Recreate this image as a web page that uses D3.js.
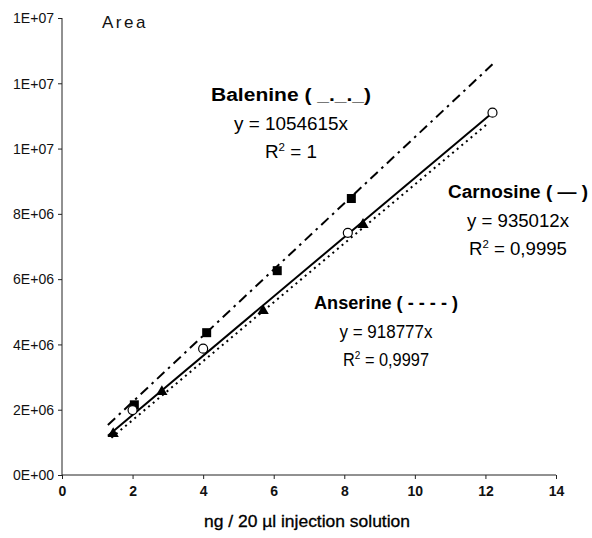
<!DOCTYPE html>
<html>
<head>
<meta charset="utf-8">
<script src="https://cdn.jsdelivr.net/npm/d3@7"></script>
<style>
  body { margin: 0; background: #fff; }
  svg { display: block; }
</style>
</head>
<body>
<script>

// Data
var xTicks = [0, 2, 4, 6, 8, 10, 12, 14];
var yTicks = [0, 2e6, 4e6, 6e6, 8e6, 1e7, 1.2e7, 1.4e7];
var yTickLabels = ['0E+00', '2E+06', '4E+06', '6E+06', '8E+06', '1E+07', '1E+07', '1E+07'];

var baleninePts = [[2.05, 2.15e6], [4.1, 4.36e6], [6.1, 6.26e6], [8.2, 8.47e6]];
var carnosinePts = [[2.0, 1.99e6], [4.0, 3.87e6], [8.1, 7.42e6], [12.2, 11.1e6]];
var anserinePts = [[1.45, 1.26e6], [2.83, 2.55e6], [5.7, 5.03e6], [8.53, 7.67e6]];

// trend lines (end points as drawn)
var balenineLine = [[1.3, 1.53e6], [12.2, 12.58e6]];
var carnosineLine = [[1.3, 1.2e6], [12.2, 11.1e6]];
var anserineLine = [[1.4, 1.14e6], [12.05, 10.75e6]];

var labels = [
    { lines: ['Balenine ( _._._)', 'y = 1054615x', '1'], x: 291, y: 95, w: [160, 114, 52] },
    { lines: ['Carnosine ( \u2014 )', 'y = 935012x', '0,9995'], x: 518, y: 192, w: [140, 102, 98] },
    { lines: ['Anserine ( - - - - )', 'y = 918777x', '0,9997'], x: 386, y: 303, w: [144, 93, 86] }
];

var width = 592,
    height = 538,
    margin = { left: 62, right: 36, top: 18, bottom: 63 };

var svg = d3.select('body').append('svg')
    .attr('width', width)
    .attr('height', height);

var xScale = d3.scaleLinear().domain([0, 14]).range([margin.left, width - margin.right]);
var yScale = d3.scaleLinear().domain([0, 1.4e7]).range([height - margin.bottom, margin.top]);

var font = '"Liberation Sans", Arial, sans-serif';

// x axis
var xAxis = d3.axisBottom(xScale)
    .tickValues(xTicks)
    .tickSize(4)
    .tickFormat(d3.format('d'));

var gx = svg.append('g')
    .attr('transform', 'translate(0,' + yScale(0) + ')')
    .call(xAxis);

gx.select('.domain').attr('d', 'M' + xScale(0) + ',0H' + xScale(14)).attr('stroke', '#222');
gx.selectAll('.tick line').attr('stroke', '#222');
gx.selectAll('.tick text')
    .attr('y', 11)
    .attr('dy', '0.71em')
    .style('font', 'bold 14px ' + font)
    .attr('fill', '#111');

// y axis
var yAxis = d3.axisLeft(yScale)
    .tickValues(yTicks)
    .tickSize(4)
    .tickFormat(function (d, i) { return yTickLabels[i]; });

var gy = svg.append('g')
    .attr('transform', 'translate(' + xScale(0) + ',0)')
    .call(yAxis);

gy.select('.domain').attr('d', 'M0,' + yScale(0) + 'V' + yScale(1.4e7)).attr('stroke', '#222');
gy.selectAll('.tick line').attr('stroke', '#222');
gy.selectAll('.tick text')
    .attr('x', -8)
    .attr('textLength', 41)
    .attr('lengthAdjust', 'spacingAndGlyphs')
    .style('font', '15px ' + font)
    .attr('fill', '#111');

// axis titles
svg.append('text')
    .attr('x', 102)
    .attr('y', 28)
    .style('font', '17px ' + font)
    .style('letter-spacing', '2.5px')
    .attr('fill', '#111')
    .text('Area');

svg.append('text')
    .attr('x', (xScale(0) + xScale(14)) / 2 - 2)
    .attr('y', 527)
    .attr('text-anchor', 'middle')
    .attr('textLength', 206)
    .attr('lengthAdjust', 'spacingAndGlyphs')
    .style('font', '16px ' + font)
    .attr('fill', '#000')
    .attr('stroke', '#000')
    .attr('stroke-width', 0.3)
    .text('ng / 20 \u00b5l injection solution');

// trend lines
var line = d3.line()
    .x(function (d) { return xScale(d[0]); })
    .y(function (d) { return yScale(d[1]); });

svg.append('path')
    .datum(balenineLine)
    .attr('d', line)
    .attr('fill', 'none')
    .attr('stroke', '#000')
    .attr('stroke-width', 2)
    .attr('stroke-dasharray', '10,5,2.5,5');

svg.append('path')
    .datum(anserineLine)
    .attr('d', line)
    .attr('fill', 'none')
    .attr('stroke', '#000')
    .attr('stroke-width', 2)
    .attr('stroke-dasharray', '2,4');

svg.append('path')
    .datum(carnosineLine)
    .attr('d', line)
    .attr('fill', 'none')
    .attr('stroke', '#000')
    .attr('stroke-width', 2);

// markers
svg.selectAll('.sq').data(baleninePts).enter()
    .append('rect')
    .attr('class', 'sq')
    .attr('x', function (d) { return xScale(d[0]) - 4.5; })
    .attr('y', function (d) { return yScale(d[1]) - 4.5; })
    .attr('width', 9)
    .attr('height', 9)
    .attr('fill', '#000');

svg.selectAll('.tri').data(anserinePts).enter()
    .append('path')
    .attr('class', 'tri')
    .attr('d', d3.symbol().type(d3.symbolTriangle).size(55))
    .attr('transform', function (d) { return 'translate(' + xScale(d[0]) + ',' + yScale(d[1]) + ')'; })
    .attr('fill', '#000');

svg.selectAll('.circ').data(carnosinePts).enter()
    .append('circle')
    .attr('class', 'circ')
    .attr('cx', function (d) { return xScale(d[0]); })
    .attr('cy', function (d) { return yScale(d[1]); })
    .attr('r', 4.5)
    .attr('fill', '#fff')
    .attr('stroke', '#000')
    .attr('stroke-width', 1.2);

// equation labels
labels.forEach(function (l) {
    var g = svg.append('g').attr('fill', '#000');

    g.append('text')
        .attr('x', l.x)
        .attr('y', l.y + 6)
        .attr('text-anchor', 'middle')
        .attr('textLength', l.w[0])
        .attr('lengthAdjust', 'spacingAndGlyphs')
        .style('font', 'bold 18px ' + font)
        .text(l.lines[0]);

    g.append('text')
        .attr('x', l.x)
        .attr('y', l.y + 35)
        .attr('text-anchor', 'middle')
        .attr('textLength', l.w[1])
        .attr('lengthAdjust', 'spacingAndGlyphs')
        .style('font', '18px ' + font)
        .text(l.lines[1]);

    var r2 = g.append('text')
        .attr('x', l.x)
        .attr('y', l.y + 63)
        .attr('text-anchor', 'middle')
        .attr('textLength', l.w[2])
        .attr('lengthAdjust', 'spacingAndGlyphs')
        .style('font', '18px ' + font);
    r2.append('tspan').text('R');
    r2.append('tspan').attr('dy', -7).style('font-size', '11px').text('2');
    r2.append('tspan').attr('dy', 7).text(' = ' + l.lines[2]);
});

</script>
</body>
</html>
